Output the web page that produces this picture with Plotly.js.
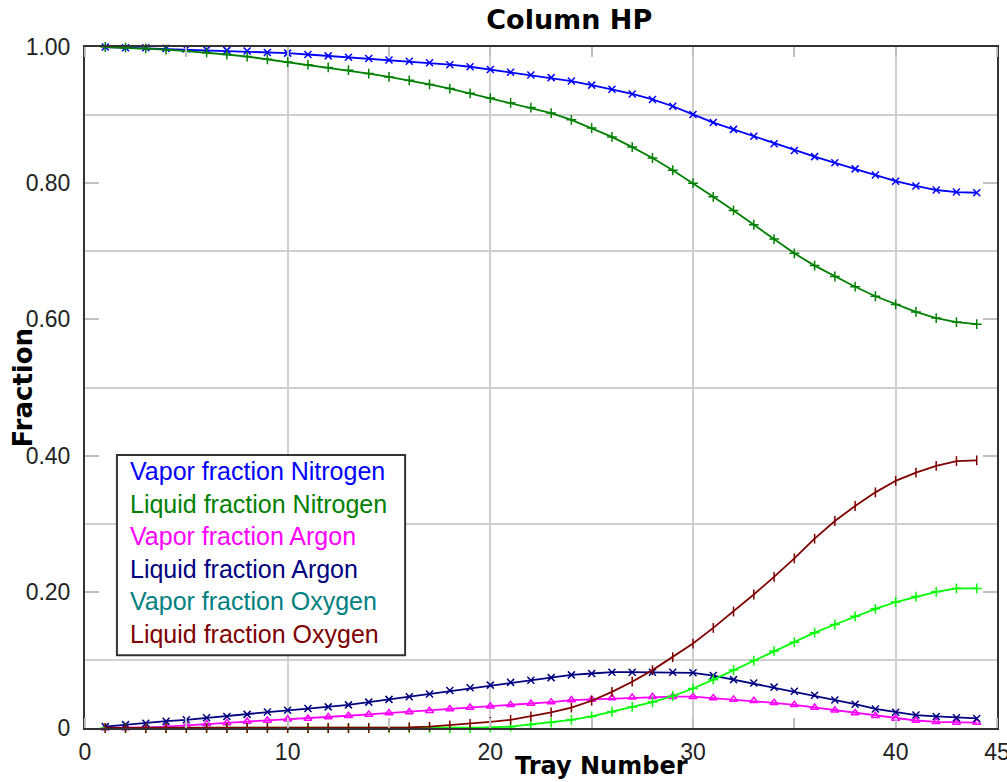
<!DOCTYPE html>
<html>
<head>
<meta charset="utf-8">
<script src="https://cdn.plot.ly/plotly-3.0.1.min.js"></script>
<style>html,body{margin:0;padding:0;background:#fff;}#chart{width:1007px;height:782px;}</style>
</head>
<body>
<div id="chart"></div>
<script>
// ---- data ----
const trays = [1,2,3,4,5,6,7,8,9,10,11,12,13,14,15,16,17,18,19,20,21,22,23,24,25,26,27,28,29,30,31,32,33,34,35,36,37,38,39,40,41,42,43,44];

const vaporNitrogen = [1.000,0.999,0.999,0.998,0.997,0.996,0.995,0.994,0.992,0.991,
  0.989,0.987,0.985,0.983,0.981,0.979,0.977,0.974,0.971,0.967,
  0.963,0.959,0.955,0.950,0.944,0.938,0.931,0.923,0.913,0.901,
  0.889,0.879,0.869,0.858,0.848,0.839,0.830,0.821,0.812,0.803,
  0.796,0.790,0.787,0.786];

const liquidNitrogen = [1.000,0.999,0.998,0.996,0.994,0.992,0.989,0.986,0.982,0.978,
  0.974,0.970,0.966,0.961,0.956,0.951,0.945,0.939,0.932,0.925,
  0.918,0.911,0.903,0.893,0.881,0.868,0.853,0.837,0.819,0.800,
  0.780,0.760,0.739,0.718,0.697,0.679,0.663,0.648,0.634,0.622,
  0.611,0.602,0.596,0.593];

const vaporArgon = [0.000,0.000,0.001,0.002,0.0035,0.006,0.0075,0.0095,0.011,0.013,
  0.014,0.016,0.018,0.020,0.022,0.0235,0.0255,0.028,0.030,0.032,
  0.034,0.036,0.038,0.041,0.042,0.044,0.045,0.046,0.046,0.046,
  0.044,0.042,0.040,0.037,0.034,0.030,0.026,0.022,0.018,0.014,
  0.011,0.009,0.008,0.008];

const liquidArgon = [0.002,0.005,0.007,0.010,0.012,0.015,0.017,0.020,0.0235,0.026,
  0.0285,0.031,0.034,0.038,0.042,0.046,0.050,0.055,0.059,0.063,
  0.067,0.070,0.074,0.078,0.080,0.082,0.082,0.082,0.082,0.081,
  0.077,0.071,0.066,0.060,0.054,0.048,0.041,0.035,0.028,0.023,
  0.019,0.017,0.015,0.014];

const vaporOxygen = [0.000,0.000,0.000,0.000,0.000,0.000,0.000,0.000,0.000,0.000,
  0.000,0.000,0.000,0.000,0.000,0.000,0.000,0.000,0.000,0.001,
  0.002,0.005,0.008,0.012,0.017,0.024,0.031,0.038,0.047,0.058,
  0.071,0.085,0.099,0.113,0.126,0.140,0.152,0.164,0.175,0.185,
  0.193,0.200,0.205,0.205];

const liquidOxygen = [0.000,0.000,0.000,0.000,0.000,0.000,0.000,0.000,0.000,0.000,
  0.000,0.000,0.000,0.000,0.001,0.001,0.002,0.004,0.006,0.009,
  0.012,0.017,0.023,0.030,0.040,0.053,0.068,0.085,0.104,0.124,
  0.147,0.171,0.196,0.222,0.249,0.278,0.304,0.326,0.346,0.363,
  0.375,0.385,0.392,0.393];

const seriesNames = ["Vapor fraction Nitrogen","Liquid fraction Nitrogen","Vapor fraction Argon",
  "Liquid fraction Argon","Vapor fraction Oxygen","Liquid fraction Oxygen"];

const xTickVals = [0,10,20,30,40,45];
const xTickText = ["0","10","20","30","40","45"];
const yTickVals = [0,0.2,0.4,0.6,0.8,1.0];
const yTickText = ["0","0.20","0.40","0.60","0.80","1.00"];

// ---- styles ----
const lineColors = ["#0000ff","#008000","#ff00ff","#000080","#00ff00","#800000"];
const legendColors = ["#0000ff","#008000","#ff00ff","#000080","#008080","#800000"];
const symbols = ["x-thin-open","cross-thin-open","triangle-up-open","x-thin-open","cross-thin-open","line-ns-open"];

const seriesValues = [vaporNitrogen, liquidNitrogen, vaporArgon, liquidArgon, vaporOxygen, liquidOxygen];

const traces = seriesValues.map((vals, i) => ({
  type: "scatter",
  mode: "lines+markers",
  x: trays,
  y: vals,
  name: seriesNames[i],
  cliponaxis: false,
  line: {color: lineColors[i], width: 1.8},
  marker: {symbol: symbols[i], size: 7, color: lineColors[i], line: {color: lineColors[i], width: 1.5}}
}));

const legendText = seriesNames.map((n, i) =>
  '<span style="color:' + legendColors[i] + '">' + n + '</span>').join("<br>");

const tickFont = {family: "Liberation Sans, Arial, sans-serif", size: 23, color: "#222"};
const gridColor = "#cfcfcf";

const layout = {
  width: 1007, height: 782,
  margin: {l: 85, r: 10, t: 47, b: 54},
  paper_bgcolor: "#ffffff",
  plot_bgcolor: "#ffffff",
  showlegend: false,
  title: {
    text: "<b>Column HP</b>",
    font: {family: "DejaVu Sans, sans-serif", size: 27, color: "#000"},
    xref: "paper", x: 0.531, xanchor: "center",
    yref: "container", y: 0.975, yanchor: "middle"
  },
  xaxis: {
    range: [0, 45],
    tickmode: "array", tickvals: xTickVals, ticktext: xTickText,
    tickfont: tickFont,
    ticklabeloverflow: "allow",
    ticks: "", ticklabelstandoff: 2,
    showgrid: true, gridcolor: gridColor, gridwidth: 2,
    zeroline: false,
    showline: true, linecolor: "#333", linewidth: 2, mirror: "ticks",
    minor: {tick0: 0, dtick: 5, ticks: "inside", ticklen: 10, tickwidth: 2, tickcolor: "#c0c0c0", showgrid: false}
  },
  yaxis: {
    range: [0, 1],
    tickmode: "array", tickvals: yTickVals, ticktext: yTickText,
    tickfont: tickFont,
    ticks: "inside", ticklen: 14, tickwidth: 2, tickcolor: "#c0c0c0",
    ticklabelstandoff: 8,
    showgrid: false,
    zeroline: false,
    showline: true, linecolor: "#333", linewidth: 2, mirror: "ticks",
    minor: {tick0: 0.1, dtick: 0.2, ticks: "", showgrid: true, gridcolor: gridColor, gridwidth: 2}
  },
  shapes: [{
    type: "rect", xref: "paper", yref: "paper",
    x0: 0.035, x1: 0.351, y0: 0.107, y1: 0.401,
    line: {color: "#333", width: 2}, fillcolor: "#ffffff", layer: "above"
  }],
  annotations: [
    {
      text: legendText, xref: "paper", yref: "paper",
      x: 0.047, y: 0.258, xanchor: "left", yanchor: "middle", align: "left",
      showarrow: false,
      font: {family: "Liberation Sans, Arial, sans-serif", size: 25}
    },
    {
      text: "<b>Tray Number</b>", xref: "paper", yref: "paper",
      x: 0.566, y: -0.056, xanchor: "center", yanchor: "middle",
      showarrow: false,
      font: {family: "DejaVu Sans, sans-serif", size: 24, color: "#000"}
    },
    {
      text: "<b>Fraction</b>", xref: "paper", yref: "paper",
      x: -0.068, y: 0.5, xanchor: "center", yanchor: "middle", textangle: -90,
      showarrow: false,
      font: {family: "DejaVu Sans, sans-serif", size: 26, color: "#000"}
    }
  ]
};

Plotly.newPlot("chart", traces, layout, {displayModeBar: false, staticPlot: true});
</script>
</body>
</html>
